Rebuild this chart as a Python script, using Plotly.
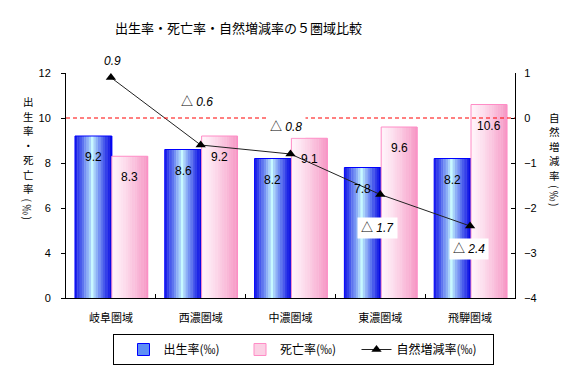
import plotly.graph_objects as go

# ---- data ----
categories = ["岐阜圏域", "西濃圏域", "中濃圏域", "東濃圏域", "飛騨圏域"]
birth_rate = [9.2, 8.6, 8.2, 7.8, 8.2]
death_rate = [8.3, 9.2, 9.1, 9.6, 10.6]
natural_change = [0.9, -0.6, -0.8, -1.7, -2.4]
left_tickvals = [2, 4, 6, 8, 10, 12]
left_ticktext = ["0", "4", "6", "8", "10", "12"]
right_tickvals = [-4, -3, -2, -1, 0, 1]
series_names = ["出生率(‰)", "死亡率(‰)", "自然増減率(‰)"]
title_text = "出生率・死亡率・自然増減率の５圏域比較"
left_title = "出生率・死亡率(‰)"
right_title = "自然増減率(‰)"

# ---- layout constants (page pixels) ----
PAGE_W, PAGE_H = 583, 384
BODY = 8  # default page body margin
L, R, T, B = 66, 68, 73, 86
plot_w = PAGE_W - L - R
plot_h = PAGE_H - T - B
cat_px = plot_w / len(categories)
FONT = "Liberation Sans, Noto Sans CJK JP, sans-serif"
JP = "Noto Sans CJK JP"
NB = "\u00a0"


def lerp(c1, c2, t):
    return "rgb(%d,%d,%d)" % tuple(round(a + (b - a) * t) for a, b in zip(c1, c2))


def px(x):
    return (x - L) / plot_w


def py(y):
    return 1 - (y - T) / plot_h


fig = go.Figure()

N = 16
blue_off, blue_w = -0.40, 0.41
pink_off, pink_w = 0.01, 0.40

for k in range(N):
    t = (k + 0.5) / N
    d = min(1.0, abs(t - 0.47) / 0.53)
    col = lerp((200, 250, 255), (0, 0, 225), d ** 0.85)
    fig.add_trace(go.Bar(x=categories, y=birth_rate, offset=blue_off + k * blue_w / N,
                         width=blue_w / N + 0.004, marker_color=col, marker_line_width=0,
                         showlegend=False, hoverinfo="skip"))
fig.add_trace(go.Bar(x=categories, y=birth_rate, offset=blue_off, width=blue_w,
                     marker_color="rgba(0,0,0,0)", marker_line_color="#0000ff",
                     marker_line_width=1, showlegend=False, hoverinfo="skip"))
for k in range(N):
    t = (k + 0.5) / N
    col = lerp((255, 244, 250), (246, 150, 196), t ** 1.3)
    fig.add_trace(go.Bar(x=categories, y=death_rate, offset=pink_off + k * pink_w / N,
                         width=pink_w / N + 0.004, marker_color=col, marker_line_width=0,
                         showlegend=False, hoverinfo="skip"))
fig.add_trace(go.Bar(x=categories, y=death_rate, offset=pink_off, width=pink_w,
                     marker_color="rgba(0,0,0,0)", marker_line_color="#ff8cc6",
                     marker_line_width=1, showlegend=False, hoverinfo="skip"))

# legend entries
fig.add_trace(go.Bar(x=categories[:1], y=[None], name=series_names[0] + NB * 2,
                     marker_color="#5f8ff5", marker_line_color="#0000ff", marker_line_width=1))
fig.add_trace(go.Bar(x=categories[:1], y=[None], name=series_names[1] + NB * 2,
                     marker_color="#fbd0e4", marker_line_color="#ff8cc6", marker_line_width=1))

fig.add_trace(go.Scatter(x=categories, y=natural_change, yaxis="y2", mode="lines+markers",
                         name=series_names[2] + NB * 4, line=dict(color="#222222", width=1),
                         marker=dict(symbol="triangle-up", size=9, color="black")))

ann = []
for cat, b, d in zip(categories, birth_rate, death_rate):
    ann.append(dict(x=cat, y=b, xref="x", yref="y", text=f"{b}", showarrow=False,
                    xshift=(blue_off + blue_w / 2) * cat_px, yshift=-21,
                    xanchor="center", yanchor="middle",
                    font=dict(size=12, color="black", family=FONT)))
    ann.append(dict(x=cat, y=d, xref="x", yref="y", text=f"{d}", showarrow=False,
                    xshift=(pink_off + pink_w / 2) * cat_px, yshift=-21,
                    xanchor="center", yanchor="middle",
                    font=dict(size=12, color="black", family=FONT)))

label_shifts = [(2, 17), (-4, 43), (-5, 27), (-3, -33), (-1, -23)]
for cat, v, (dx, dy) in zip(categories, natural_change, label_shifts):
    txt = f"<i>{v}</i>" if v >= 0 else f"△ <i>{abs(v)}</i>"
    ann.append(dict(x=cat, y=v, xref="x", yref="y2", text=txt, showarrow=False,
                    xshift=dx, yshift=dy, xanchor="center", yanchor="middle",
                    bgcolor="white" if v < 0 else None, borderpad=3,
                    font=dict(size=12, color="black", family=FONT)))

ann.append(dict(x=px(238), y=py(27), xref="paper", yref="paper", text=title_text,
                showarrow=False, xanchor="center", yanchor="middle",
                font=dict(size=13, color="black", family=JP)))

FULL_ADV, ROT_ADV = 14.5, 9


def vertical_title(text, x_page, y_center):
    """Stack characters vertically; brackets and ‰ rotated as in vertical writing."""
    advs = [ROT_ADV if ch in "()‰" else FULL_ADV for ch in text]
    centers = [0.0]
    for a0, a1 in zip(advs[:-1], advs[1:]):
        centers.append(centers[-1] + (a0 + a1) / 2)
    shift = y_center - centers[-1] / 2
    for ch, c in zip(text, centers):
        rot = ch in "()‰"
        ann.append(dict(x=px(x_page), y=py(c + shift), xref="paper", yref="paper", text=ch,
                        showarrow=False, xanchor="center", yanchor="middle",
                        textangle=90 if rot else 0, borderpad=0,
                        font=dict(size=10.5, color="black", family=JP)))


vertical_title(left_title, 28, 160)
vertical_title(right_title, 554, 161)

fig.update_layout(
    width=PAGE_W - BODY, height=PAGE_H - BODY,
    margin=dict(l=L - BODY, r=R, t=T - BODY, b=B, autoexpand=False),
    paper_bgcolor="white", plot_bgcolor="white",
    barmode="overlay",
    font=dict(family=FONT, size=11, color="black"),
    showlegend=True,
    legend=dict(orientation="h", x=px(303), xanchor="center",
                y=py(334), yanchor="top", indentation=10,
                bordercolor="black", borderwidth=1, bgcolor="white",
                font=dict(size=12, family=JP), traceorder="normal"),
    xaxis=dict(type="category", showline=True, linecolor="black", linewidth=1,
               ticks="inside", tickson="boundaries", ticklen=4, tickcolor="black",
               showgrid=False, tickfont=dict(size=11, family=JP), ticklabelstandoff=10,
               range=[-0.5, len(categories) - 0.5]),
    yaxis=dict(range=[2, 12], tickvals=left_tickvals, ticktext=left_ticktext,
               showline=True, linecolor="black", linewidth=1, ticks="outside",
               ticklen=4, tickcolor="black", showgrid=False, zeroline=False,
               ticklabelstandoff=8, tickfont=dict(size=11)),
    yaxis2=dict(range=[-4, 1], tickvals=right_tickvals, overlaying="y", side="right",
                showline=True, linecolor="black", linewidth=1, ticks="inside",
                ticklen=4, tickcolor="black", showgrid=False, zeroline=False,
                ticklabelstandoff=6, tickfont=dict(size=11)),
    annotations=ann,
    shapes=[dict(type="line", xref="paper", x0=0, x1=1, yref="y", y0=10, y1=10,
                 line=dict(color="#ff0000", width=1, dash="4px,3px"))],
)

fig.write_html("out.html")
